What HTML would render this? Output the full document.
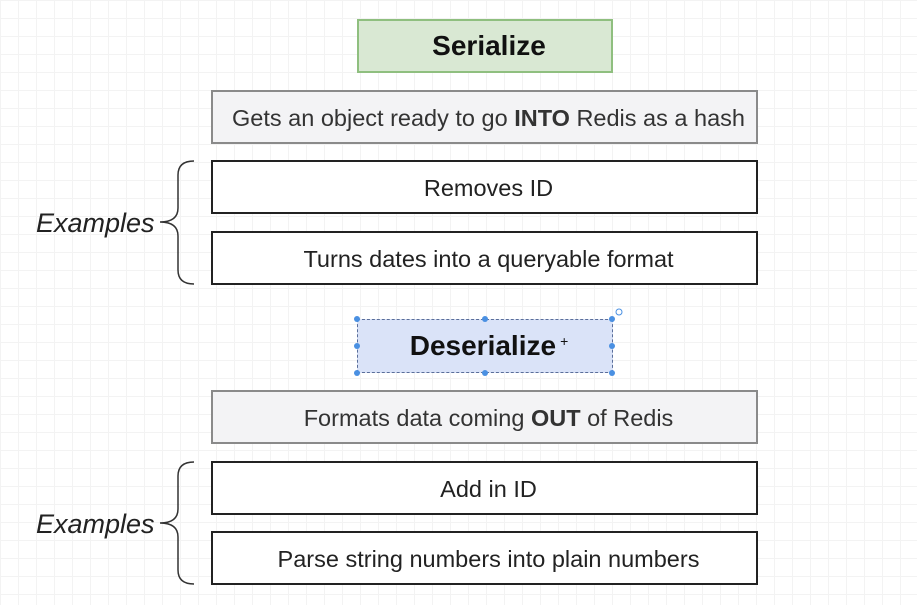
<!DOCTYPE html>
<html><head><meta charset="utf-8"><style>
body{margin:0;width:917px;height:605px;overflow:hidden;background:#fff;
background-image:linear-gradient(#f3f3f3 1px,transparent 1px),linear-gradient(90deg,#f3f3f3 1px,transparent 1px);
background-size:18px 18px;font-family:"Liberation Sans",sans-serif;position:relative}
.b{position:absolute;box-sizing:border-box;display:flex;align-items:center;justify-content:center;color:#222;padding-top:3px;padding-left:8px}
.w{left:211px;width:547px;height:54px;border:2px solid #222;background:#fff;font-size:23.5px}
.g{left:211px;width:547px;height:54px;border:2px solid #8a8a8a;background:#f3f3f5;font-size:23.5px;color:#333}
.t{left:357px;width:256px;height:54px;font-size:28px;font-weight:bold;color:#111;padding-top:0}
.ex{position:absolute;left:36px;font-size:27px;font-style:italic;color:#222}
</style></head><body>
<div class="b t" style="top:19px;background:#d9e8d3;border:2px solid #8fbf7f">Serialize</div>
<div class="b g" style="top:90px">Gets an object ready to go&nbsp;<b>INTO</b>&nbsp;Redis as a hash</div>
<div class="b w" style="top:160px">Removes ID</div>
<div class="b w" style="top:231px">Turns dates into a queryable format</div>
<div class="b t" style="top:319px;background:#dae3f8;border:1px dashed #5a6e9a">Deserialize<span style="font-size:14px;font-weight:normal;margin-left:4px;margin-top:-10px">+</span></div>
<div class="b g" style="top:390px">Formats data coming&nbsp;<b>OUT</b>&nbsp;of Redis</div>
<div class="b w" style="top:461px">Add in ID</div>
<div class="b w" style="top:531px">Parse string numbers into plain numbers</div>
<div class="ex" style="top:208px">Examples</div>
<div class="ex" style="top:509px">Examples</div>
<svg width="917" height="605" style="position:absolute;left:0;top:0" fill="none" stroke="#333" stroke-width="1.5">
<path d="M194 161 Q178 161 178 175 L178 208 Q178 222 160 222 Q178 222 178 236 L178 270 Q178 284 194 284"/>
<path d="M194 462 Q178 462 178 476 L178 509 Q178 523 160 523 Q178 523 178 537 L178 570 Q178 584 194 584"/>
<g fill="#4a90e2" stroke="none">
<circle cx="357" cy="319" r="3"/><circle cx="485" cy="319" r="3"/><circle cx="612" cy="319" r="3"/>
<circle cx="357" cy="346" r="3"/><circle cx="612" cy="346" r="3"/>
<circle cx="357" cy="373" r="3"/><circle cx="485" cy="373" r="3"/><circle cx="612" cy="373" r="3"/>
</g>
<circle cx="619" cy="312" r="3" stroke="#4a90e2" stroke-width="1"/>
</svg>
</body></html>
